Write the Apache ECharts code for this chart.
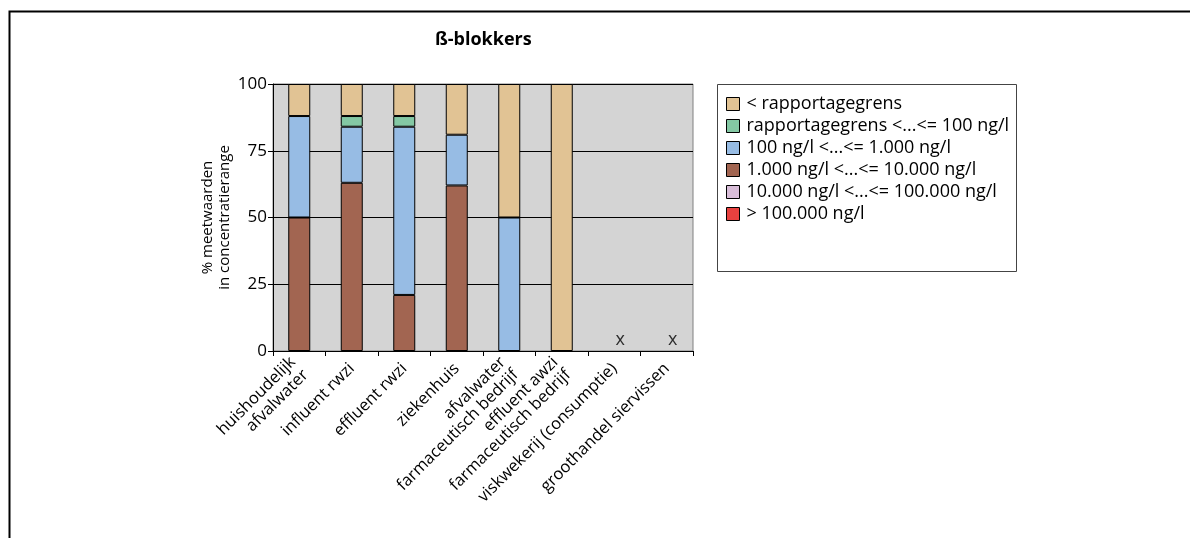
<!DOCTYPE html>
<html>
<head>
<meta charset="utf-8">
<title>ß-blokkers</title>
<script src="https://cdn.jsdelivr.net/npm/echarts@6/dist/echarts.min.js"></script>
<style>
    html, body { margin: 0; padding: 0; background: #fff; }
    #chart { width: 1190px; height: 538px; }
</style>
</head>
<body>
<div id="chart"></div>
<script>
// Chart data (percentages of measurements per concentration range)
const categories = [
    'huishoudelijk\nafvalwater',
    'influent rwzi',
    'effluent rwzi',
    'ziekenhuis',
    'afvalwater\nfarmaceutisch bedrijf',
    'effluent awzi\nfarmaceutisch bedrijf',
    'viskwekerij (consumptie)',
    'groothandel siervissen'
];
const yTicks = [0, 25, 50, 75, 100];

const onderRapportagegrens = [12, 12, 12, 19, 50, 100, null, null];
const rapportagegrensTot100 = [null, 4, 4, null, null, null, null, null];
const van100Tot1000 = [38, 21, 63, 19, 50, null, null, null];
const van1000Tot10000 = [50, 63, 21, 62, null, null, null, null];
const van10000Tot100000 = [null, null, null, null, null, null, null, null];
const boven100000 = [null, null, null, null, null, null, null, null];
const geenMetingen = [null, null, null, null, null, null, 0, 0]; // shown as "x"

const seriesNames = [
    '< rapportagegrens',
    'rapportagegrens <...<= 100 ng/l',
    '100 ng/l <...<= 1.000 ng/l',
    '1.000 ng/l <...<= 10.000 ng/l',
    '10.000 ng/l <...<= 100.000 ng/l',
    '> 100.000 ng/l'
];

const FONT = '"Open Sans", "DejaVu Sans", sans-serif';

document.addEventListener('DOMContentLoaded', function() {
    const myChart = echarts.init(document.getElementById('chart'));

    // bottom of the stack first
    const stackDefs = [
        { name: seriesNames[5], data: boven100000, color: '#E8413F' },
        { name: seriesNames[4], data: van10000Tot100000, color: '#D8BDD8' },
        { name: seriesNames[3], data: van1000Tot10000, color: '#A26551' },
        { name: seriesNames[2], data: van100Tot1000, color: '#97BCE4' },
        { name: seriesNames[1], data: rapportagegrensTot100, color: '#84C8A4' },
        { name: seriesNames[0], data: onderRapportagegrens, color: '#E1C394' }
    ];

    const series = stackDefs.map(def => ({
        name: def.name,
        type: 'bar',
        stack: 'totaal',
        barWidth: 22,
        data: def.data,
        itemStyle: { color: def.color, borderColor: '#000', borderWidth: 1 }
    }));

    series.push({
        name: 'geen metingen',
        type: 'scatter',
        data: geenMetingen,
        symbolSize: 0,
        silent: true,
        label: {
            show: true,
            position: 'top',
            distance: 2,
            offset: [6, 0],
            formatter: 'x',
            color: '#000',
            fontFamily: FONT,
            fontSize: 18
        }
    });

    const option = {
        animation: false,
        backgroundColor: '#fff',
        textStyle: { fontFamily: FONT },
        title: {
            text: 'ß-blokkers',
            left: 430,
            top: 26,
            textStyle: { fontFamily: FONT, fontSize: 18, fontWeight: 'bold', color: '#000' }
        },
        graphic: [
            {
                type: 'polyline',
                shape: { points: [[9.5, 538], [9.5, 11.5], [1190, 11.5]] },
                style: { stroke: '#000', lineWidth: 2, fill: null }
            },
            {
                type: 'rect',
                shape: { x: 717.5, y: 84.5, width: 299, height: 187 },
                style: { stroke: '#444', lineWidth: 1, fill: null }
            }
        ],
        legend: {
            data: seriesNames,
            orient: 'vertical',
            left: 722,
            top: 93,
            icon: 'rect',
            itemWidth: 13,
            itemHeight: 13,
            itemGap: 4,
            padding: [2, 4],
            textStyle: { fontFamily: FONT, fontSize: 18, color: '#000', padding: [0, 0, 0, 2] },
            itemStyle: { borderColor: '#000', borderWidth: 1 },
            selectedMode: false
        },
        grid: {
            left: 273,
            right: 497,
            top: 84,
            bottom: 187,
            show: true,
            backgroundColor: '#D4D4D4',
            borderColor: '#808080',
            borderWidth: 1
        },
        xAxis: {
            type: 'category',
            data: categories,
            axisLine: { lineStyle: { color: '#000', width: 1 } },
            axisTick: { show: true, length: 5, lineStyle: { color: '#000' } },
            axisLabel: {
                interval: 0,
                rotate: 45,
                margin: 15,
                fontFamily: FONT,
                fontSize: 16.5,
                color: '#000',
                lineHeight: 18
            }
        },
        yAxis: {
            type: 'value',
            min: yTicks[0],
            max: yTicks[yTicks.length - 1],
            interval: 25,
            name: '% meetwaarden\nin concentratierange',
            nameLocation: 'middle',
            nameGap: 40,
            nameRotate: 90,
            nameTextStyle: { fontFamily: FONT, fontSize: 15, color: '#000', lineHeight: 17 },
            axisLine: { show: true, lineStyle: { color: '#000' } },
            axisTick: { show: true, length: 5, lineStyle: { color: '#000' } },
            axisLabel: { fontFamily: FONT, fontSize: 17, color: '#000', margin: 6 },
            splitLine: { show: true, lineStyle: { color: '#000', width: 1 } }
        },
        series: series
    };

    myChart.setOption(option);
});
</script>
</body>
</html>
